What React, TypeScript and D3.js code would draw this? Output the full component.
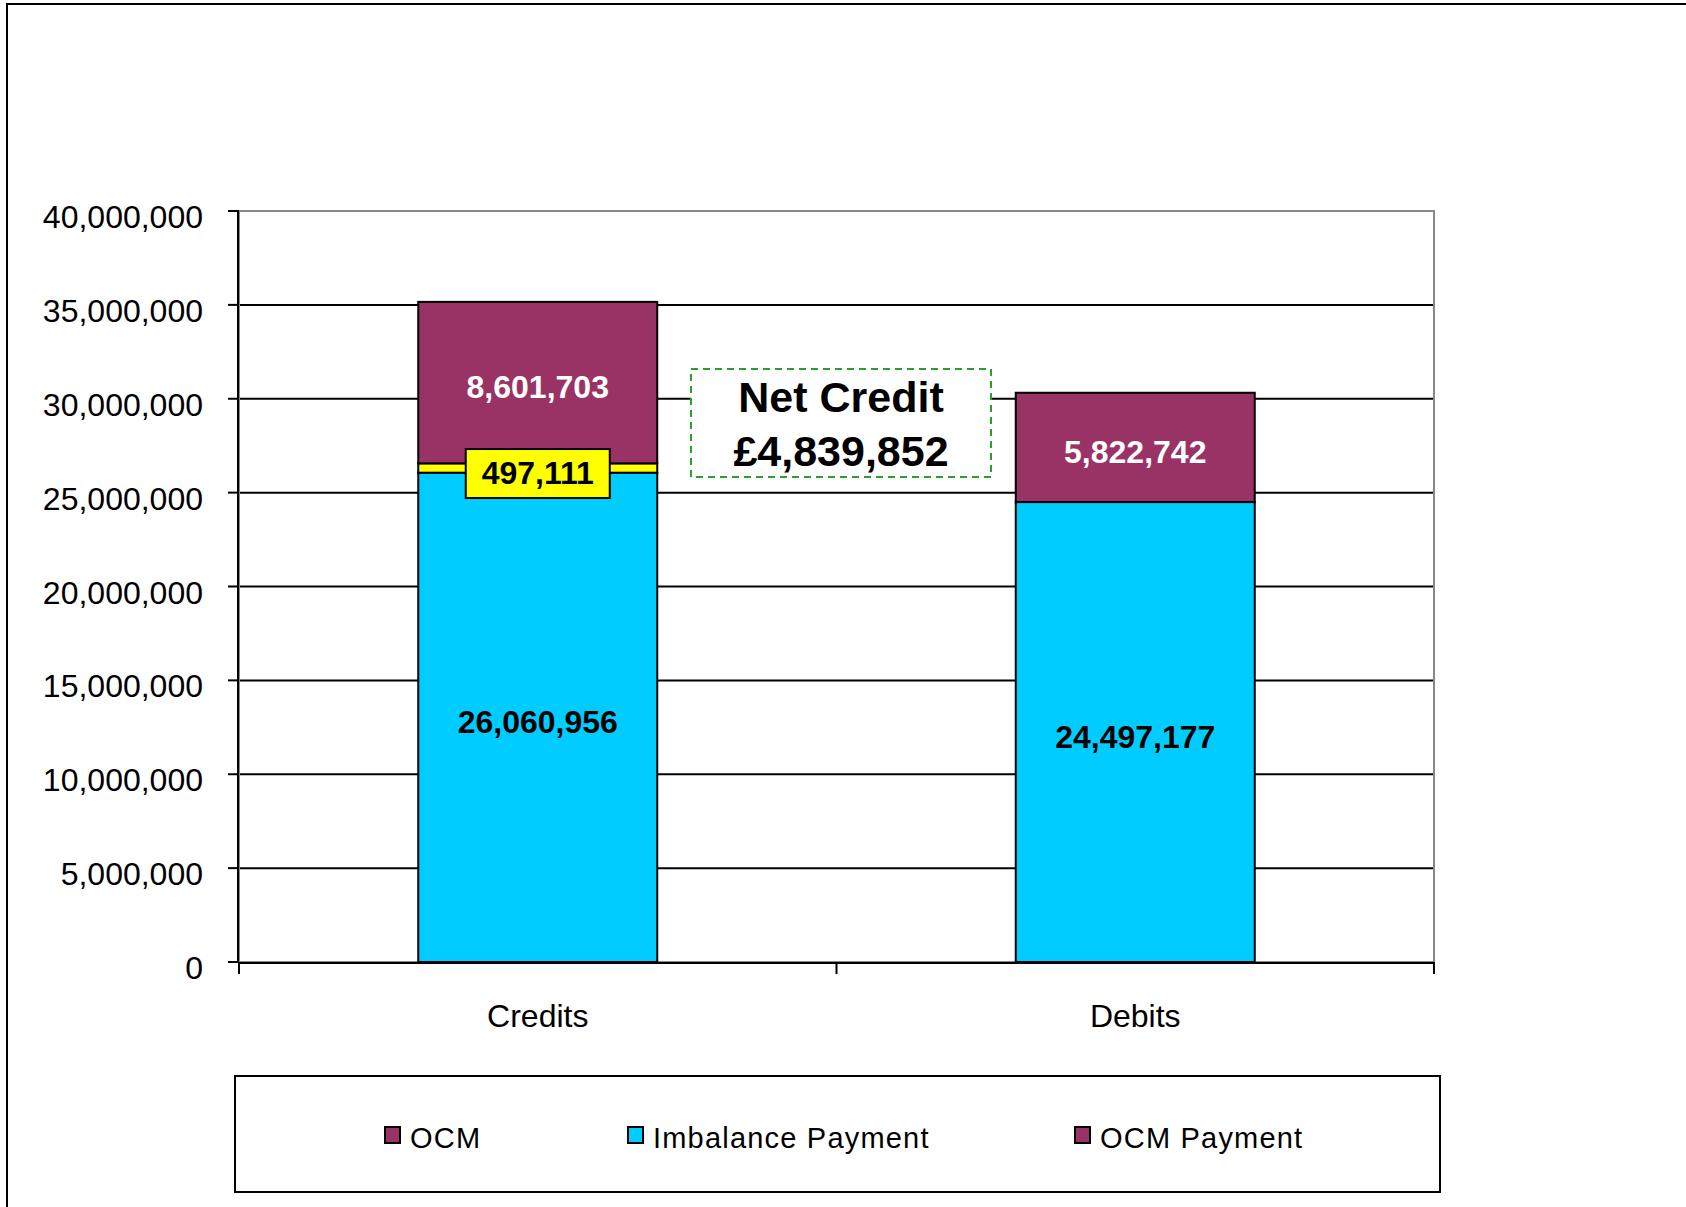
import React, { useEffect, useRef } from "react";
import * as d3 from "d3";

const categories = ["Credits", "Debits"];
const imbalancePayment = [26060956, 24497177];
const adjustment = [497111, 0];
const ocm = [8601703, 0];
const ocmPayment = [0, 5822742];
const yTicks = [0, 5000000, 10000000, 15000000, 20000000, 25000000, 30000000, 35000000, 40000000];
const legendItems = ["OCM", "Imbalance Payment", "OCM Payment"];
const netCreditLines = ["Net Credit", "£4,839,852"];

const seriesKeys = ["Imbalance Payment", "Adjustment", "OCM", "OCM Payment"];
const seriesColors: Record<string, string> = {
  "Imbalance Payment": "#00CCFF",
  Adjustment: "#FFFF00",
  OCM: "#993366",
  "OCM Payment": "#993366",
};
const labelColors: Record<string, string> = {
  "Imbalance Payment": "#000000",
  Adjustment: "#000000",
  OCM: "#FFFFFF",
  "OCM Payment": "#FFFFFF",
};

const FONT = "'Liberation Sans', Arial, sans-serif";

const App: React.FC = () => {
  const ref = useRef<SVGSVGElement | null>(null);

  useEffect(() => {
    const width = 1686;
    const height = 1207;
    const plot = { left: 239, right: 1434, top: 211, bottom: 962 };

    const svg = d3.select(ref.current);
    svg.selectAll("*").remove();
    svg.attr("width", width).attr("height", height);

    const rows = categories.map((c, i) => ({
      category: c,
      "Imbalance Payment": imbalancePayment[i],
      Adjustment: adjustment[i],
      OCM: ocm[i],
      "OCM Payment": ocmPayment[i],
    }));

    const stacked = d3.stack<any>().keys(seriesKeys)(rows);

    const x = d3.scaleBand().domain(categories).range([plot.left, plot.right]).padding(0);
    const y = d3.scaleLinear().domain([0, 40000000]).range([plot.bottom, plot.top]);
    const barW = x.bandwidth() * 0.4;
    const barX = (c: string) => (x(c) ?? 0) + (x.bandwidth() - barW) / 2;
    const fmt = d3.format(",");

    // outer frame
    svg
      .append("rect")
      .attr("x", 7)
      .attr("y", 4)
      .attr("width", width + 20)
      .attr("height", height + 20)
      .attr("fill", "#fff")
      .attr("stroke", "#000")
      .attr("stroke-width", 2);

    // gridlines
    svg
      .append("g")
      .selectAll("line")
      .data(yTicks.slice(1, -1))
      .enter()
      .append("line")
      .attr("x1", plot.left)
      .attr("x2", plot.right)
      .attr("y1", (d) => y(d))
      .attr("y2", (d) => y(d))
      .attr("stroke", "#000")
      .attr("stroke-width", 2);

    // plot area border (grey)
    svg
      .append("rect")
      .attr("x", plot.left)
      .attr("y", plot.top)
      .attr("width", plot.right - plot.left)
      .attr("height", plot.bottom - plot.top)
      .attr("fill", "none")
      .attr("stroke", "#888")
      .attr("stroke-width", 2);

    // bars
    stacked.forEach((layer) => {
      svg
        .append("g")
        .selectAll("rect")
        .data(layer.filter((d) => d[1] - d[0] > 0))
        .enter()
        .append("rect")
        .attr("x", (d) => barX(d.data.category))
        .attr("y", (d) => y(d[1]))
        .attr("width", barW)
        .attr("height", (d) => y(d[0]) - y(d[1]))
        .attr("fill", seriesColors[layer.key])
        .attr("stroke", "#000")
        .attr("stroke-width", 2);
    });

    // y axis
    svg
      .append("line")
      .attr("x1", plot.left - 1)
      .attr("x2", plot.left - 1)
      .attr("y1", plot.top)
      .attr("y2", plot.bottom)
      .attr("stroke", "#000")
      .attr("stroke-width", 2);
    const yAxis = svg.append("g");
    yAxis
      .selectAll("line")
      .data(yTicks)
      .enter()
      .append("line")
      .attr("x1", plot.left - 11)
      .attr("x2", plot.left)
      .attr("y1", (d) => y(d))
      .attr("y2", (d) => y(d))
      .attr("stroke", "#000")
      .attr("stroke-width", 2);
    yAxis
      .selectAll("text")
      .data(yTicks)
      .enter()
      .append("text")
      .attr("x", 203)
      .attr("y", (d) => y(d) + 17)
      .attr("text-anchor", "end")
      .style("font-family", FONT)
      .style("font-size", "32px")
      .attr("fill", "#000")
      .text((d) => fmt(d));

    // x axis
    svg
      .append("line")
      .attr("x1", plot.left)
      .attr("x2", plot.right)
      .attr("y1", plot.bottom + 1)
      .attr("y2", plot.bottom + 1)
      .attr("stroke", "#000")
      .attr("stroke-width", 2);
    const xEdges = [...categories.map((c) => x(c) ?? 0), plot.right];
    svg
      .append("g")
      .selectAll("line")
      .data(xEdges)
      .enter()
      .append("line")
      .attr("x1", (d) => d)
      .attr("x2", (d) => d)
      .attr("y1", plot.bottom)
      .attr("y2", plot.bottom + 12)
      .attr("stroke", "#000")
      .attr("stroke-width", 2);
    svg
      .append("g")
      .selectAll("text")
      .data(categories)
      .enter()
      .append("text")
      .attr("x", (d) => (x(d) ?? 0) + x.bandwidth() / 2)
      .attr("y", 1027)
      .attr("text-anchor", "middle")
      .style("font-family", FONT)
      .style("font-size", "32px")
      .text((d) => d);

    // data labels
    stacked.forEach((layer) => {
      const g = svg.append("g");
      layer
        .filter((d) => d[1] - d[0] > 0)
        .forEach((d) => {
          const cx = barX(d.data.category) + barW / 2;
          const cy = (y(d[0]) + y(d[1])) / 2 + 4;
          const label = fmt(d[1] - d[0]);
          if (layer.key === "Adjustment") {
            g.append("rect")
              .attr("x", cx - 72)
              .attr("y", cy - 23)
              .attr("width", 144)
              .attr("height", 49)
              .attr("fill", "#FFFF00")
              .attr("stroke", "#000")
              .attr("stroke-width", 2);
          }
          g.append("text")
            .attr("x", cx)
            .attr("y", cy + 11.5)
            .attr("text-anchor", "middle")
            .style("font-family", FONT)
            .style("font-size", "32px")
            .style("font-weight", "bold")
            .attr("fill", labelColors[layer.key])
            .text(label);
        });
    });

    // net credit annotation
    const nc = svg.append("g");
    nc.append("rect")
      .attr("x", 691)
      .attr("y", 369)
      .attr("width", 300)
      .attr("height", 108)
      .attr("fill", "#fff")
      .attr("stroke", "#2E9E2E")
      .attr("stroke-width", 2)
      .attr("stroke-dasharray", "7,5");
    nc.selectAll("text")
      .data(netCreditLines)
      .enter()
      .append("text")
      .attr("x", 841)
      .attr("y", (_, i) => 412 + i * 54)
      .attr("text-anchor", "middle")
      .style("font-family", FONT)
      .style("font-size", "43px")
      .style("font-weight", "bold")
      .text((d) => d);

    // legend
    const lg = svg.append("g");
    lg.append("rect")
      .attr("x", 235)
      .attr("y", 1076)
      .attr("width", 1205)
      .attr("height", 116)
      .attr("fill", "#fff")
      .attr("stroke", "#000")
      .attr("stroke-width", 2);
    const legendX = [385, 628, 1075];
    legendItems.forEach((name, i) => {
      lg.append("rect")
        .attr("x", legendX[i])
        .attr("y", 1127)
        .attr("width", 15)
        .attr("height", 16)
        .attr("fill", seriesColors[name])
        .attr("stroke", "#000")
        .attr("stroke-width", 2);
      lg.append("text")
        .attr("x", legendX[i] + 25)
        .attr("y", 1148)
        .style("font-family", FONT)
        .style("font-size", "29px")
        .style("letter-spacing", "1.2px")
        .text(name);
    });
  }, []);

  return (
    <svg
      ref={ref}
      style={{ position: "absolute", left: 0, top: 0, display: "block" }}
    ></svg>
  );
};

export default App;
